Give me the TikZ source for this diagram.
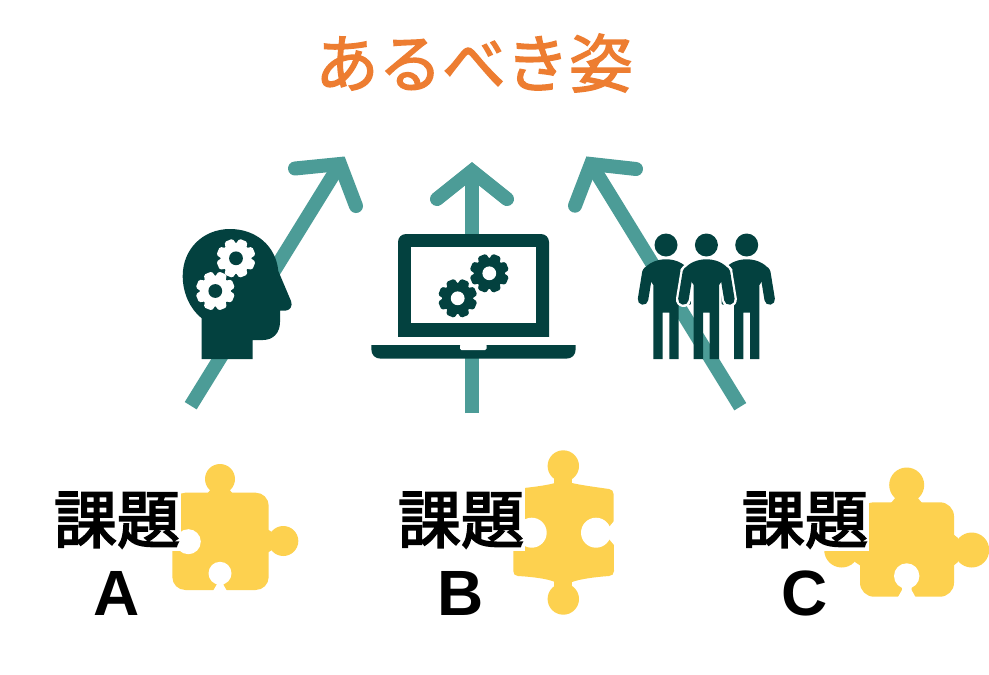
\documentclass[tikz,border=0pt]{standalone}
\usepackage{fontspec}
\setmainfont{Liberation Sans}
\newfontfamily\cjk{Noto Sans CJK JP}[FakeBold=3]
\newfontfamily\cjkt{Noto Sans CJK JP}[FakeBold=2.2]
\definecolor{teal1}{HTML}{4C9C97}
\definecolor{dark1}{HTML}{03413F}
\definecolor{yel1}{HTML}{FDD14F}
\definecolor{org1}{HTML}{ED7D31}
\tikzset{
  shaft/.style={draw=teal1,line width=14},
  barb/.style={draw=teal1,line width=14,line cap=round,line join=miter,miter limit=10},
  kadai/.style={font={\cjk\fontsize{63}{70}\selectfont},inner sep=0pt,text=black},
  latin/.style={font={\bfseries\fontsize{64}{70}\selectfont},inner sep=0pt,text=black,anchor=base},
  piece/.style={fill=yel1,draw=none},
  hole/.style={fill=white,draw=none}
}
\newcommand{\mygear}[4]{% x y fill hole
  \begin{scope}[shift={(#1,#2)}]
    \fill[#3] (0,0) circle (15.5);
    \foreach \ga in {22.5,67.5,...,337.5}{
      \fill[#3,rotate=\ga,rounded corners=1.5] (-6,-12) -- (-4.3,-19.4) -- (4.3,-19.4) -- (6,-12) -- cycle;
    }
    \fill[#4] (0,0) circle (6.9);
  \end{scope}}
\newcommand{\mytorso}{(-12.7,359) -- (-12.7,285) -- (-23,270) .. controls (-17,262) and (-8,259.3) .. (0,259.3) .. controls (8,259.3) and (17,262) .. (23,270) -- (12.7,285) -- (12.7,359) -- (3.3,359) -- (3.3,312.7) -- (-3.3,312.7) -- (-3.3,359) -- cycle}
\newcommand{\myperson}[1]{%
  \begin{scope}[shift={(#1,0)}]
    \fill[dark1] (0,245) circle (11.5);
    \fill[dark1] \mytorso;
    \draw[dark1,line width=10.5,line cap=round] (-18.5,272) -- (-23,299.5);
    \draw[dark1,line width=10.5,line cap=round] (18.5,272) -- (23,299.5);
  \end{scope}}
\newcommand{\myhalo}[1]{%
  \begin{scope}[shift={(#1,0)}]
    \begin{scope}
      \clip (-40,250) rectangle (40,309);
      \draw[white,line width=5] \mytorso;
      \draw[white,line width=15,line cap=round] (-18.5,272) -- (-23,299.5);
      \draw[white,line width=15,line cap=round] (18.5,272) -- (23,299.5);
    \end{scope}
  \end{scope}}
\begin{document}
\begin{tikzpicture}[x=1pt,y=-1pt]
\useasboundingbox (0,0) rectangle (989,675);
\fill[white] (0,0) rectangle (989,675);

\node[font={\cjkt\fontsize{63.5}{70}\selectfont},text=org1,inner sep=0pt] (title) at (474,63) {あるべき姿};

% arrows
\coordinate (tailA) at (190.7,405.7);
\coordinate (tipA) at (340,164);
\coordinate (barbA1) at (295,168.5);
\coordinate (barbA2) at (356,206);
\coordinate (tailB) at (472,413);
\coordinate (tipB) at (472,171);
\coordinate (barbB1) at (437,199);
\coordinate (barbB2) at (507,199);
\coordinate (tailC) at (740.3,406.7);
\coordinate (tipC) at (591,164);
\coordinate (barbC1) at (636,169);
\coordinate (barbC2) at (575,205.7);
\draw[shaft] (tailA) -- (tipA);
\draw[barb] (barbA1) -- (tipA) -- (barbA2);
\draw[shaft] (tailB) -- (tipB);
\draw[barb] (barbB1) -- (tipB) -- (barbB2);
\draw[shaft] (tailC) -- (tipC);
\draw[barb] (barbC1) -- (tipC) -- (barbC2);

% head
\fill[dark1] (201.7,359) -- (201.7,318.3) .. controls (190,309) and (182.7,293) .. (182.7,276)
  .. controls (182.7,249) and (203,229) .. (230,229)
  .. controls (256,229) and (276,246) .. (278.3,271)
  -- (291,301) .. controls (293,306) and (290,310.7) .. (285,310.7)
  -- (280,310.7) -- (280,322) .. controls (280,333) and (273,340) .. (263,340)
  -- (252.7,340) -- (252.7,359) -- cycle;
\mygear{236}{258.3}{white}{dark1}
\mygear{215.3}{291}{white}{dark1}

% laptop
\fill[white] (398,234) rectangle (549,358);
\fill[dark1,rounded corners=8] (398,345) -- (398,234) -- (549,234) -- (549,345) -- cycle;
\fill[dark1] (398,325) rectangle (549,336.7);
\fill[white] (398,336.7) rectangle (549,345);
\fill[white] (411,247.3) rectangle (535.7,323);
\fill[dark1] (371.3,345) -- (575.7,345) -- (575.7,349) .. controls (575.7,355) and (572,358.7) .. (566,358.7)
  -- (381,358.7) .. controls (375,358.7) and (371.3,355) .. (371.3,349) -- cycle;
\fill[white,rounded corners=1.5] (460,344) -- (460,350) -- (486.7,350) -- (486.7,344) -- cycle;
\mygear{457.7}{298.3}{dark1}{white}
\mygear{489.3}{273.3}{dark1}{white}

% people
\myperson{666}
\myperson{746.7}
\myhalo{706.4}
\myperson{706.4}

% puzzle A
\fill[piece,rounded corners=13] (172.3,492.7) rectangle (268.7,590);
\fill[piece] (220,479) circle (15);
\fill[piece] (211,489) -- (229,489) -- (233,494) -- (207,494) -- cycle;
\fill[piece] (283.3,541) circle (15);
\fill[piece] (272,532) -- (272,550) -- (267,553) -- (267,529) -- cycle;
\fill[hole] (188.3,541.7) circle (12.5);
\fill[hole] (170,533) rectangle (182,550);
\fill[hole] (220,573.3) circle (11.5);
\fill[hole] (216.5,578) -- (223.5,578) -- (223.5,585) -- (227,591) -- (213,591) -- (216.5,585) -- cycle;

% puzzle B
\fill[piece] (519,488.5) .. controls (535,487) and (548,485) .. (555,483)
  -- (572,483) .. controls (580,485) and (595,487) .. (609,489)
  .. controls (612,489.5) and (613.5,491) .. (613.5,494)
  -- (614,571) .. controls (614,574) and (612,576) .. (609,576)
  .. controls (595,577) and (580,579) .. (572,582)
  -- (555,582) .. controls (548,579) and (535,577) .. (518,576)
  .. controls (515,576) and (513.3,574) .. (513.3,571)
  -- (514,500) -- cycle;
\fill[piece] (563.3,466) circle (15.7);
\fill[piece] (554,475) rectangle (572,486);
\fill[piece] (563.3,599) circle (15.7);
\fill[piece] (554,580) rectangle (572,590);
\fill[hole] (531.7,532.7) circle (15);
\fill[hole] (510,525) rectangle (525,541);
\fill[hole] (596,532.7) circle (15);
\fill[hole] (604,527) -- (609,527) -- (615,520) -- (615,546) -- (609,539) -- (604,539) -- cycle;

% puzzle C
\fill[piece,rounded corners=14] (860,502.3) rectangle (954,596.7);
\fill[piece] (906.7,485) circle (17.5);
\fill[piece] (896,497) -- (917,497) -- (922,503) -- (891,503) -- cycle;
\fill[piece] (971.7,550) circle (17.5);
\fill[piece] (958,538) -- (958,562) -- (953,566) -- (953,534) -- cycle;
\fill[piece] (841.7,550) circle (17.5);
\fill[piece] (855,538) -- (855,562) -- (861,566) -- (861,534) -- cycle;
\fill[hole] (906.7,576) circle (12.7);
\fill[hole] (902,582) -- (911.5,582) -- (911.5,590) -- (916,598) -- (897.5,598) -- (902,590) -- cycle;

% white grounds behind the texts
\fill[white] (50,486) rectangle (181,551);
\fill[white] (394,486) rectangle (524.5,551);
\fill[white] (738,486) rectangle (869,551);

% texts
\node[kadai] (ka) at (117,520) {課題};
\node[kadai] (kb) at (461,520) {課題};
\node[kadai] (kc) at (805,520) {課題};
\node[latin] (la) at (116.7,615.7) {A};
\node[latin] (lb) at (460.5,615.7) {B};
\node[latin] (lc) at (804.5,615.7) {C};
\end{tikzpicture}
\end{document}
